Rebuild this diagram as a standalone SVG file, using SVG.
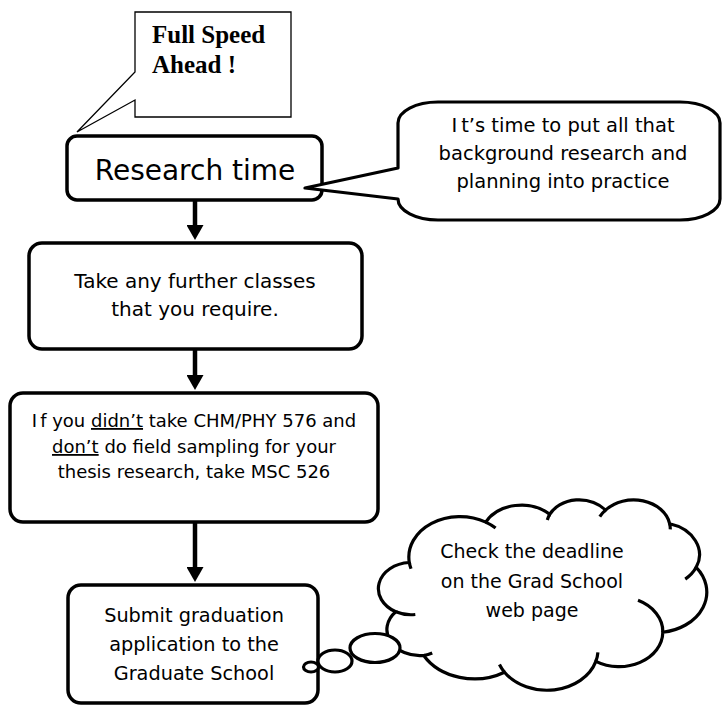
<svg xmlns="http://www.w3.org/2000/svg" width="725" height="706" viewBox="0 0 725 706">
<defs>
<style>
.t{font-family:"DejaVu Sans",Verdana,sans-serif;fill:#000;text-anchor:middle}
.serif{font-family:"Liberation Serif","Times New Roman",serif;font-weight:bold;font-size:25px;fill:#000}
.box{fill:#fff;stroke:#000;stroke-width:3.5}
.shape{fill:#fff;stroke:#000;stroke-width:3.2;stroke-linejoin:round}
.u{text-decoration:underline}
.arrow{stroke:#000;stroke-width:4.5;fill:none}
</style>
<marker id="ah" markerUnits="userSpaceOnUse" markerWidth="15" markerHeight="17" viewBox="0 0 15 17" refX="1" refY="8.5" orient="auto">
<path d="M0,0 L15,8.5 L0,17 Z" fill="#000"/>
</marker>
</defs>
<rect width="725" height="706" fill="#fff"/>

<g id="connectors">
<line class="arrow" x1="195" y1="200" x2="195" y2="226" marker-end="url(#ah)"/>
<line class="arrow" x1="195" y1="349" x2="195" y2="376" marker-end="url(#ah)"/>
<line class="arrow" x1="195" y1="522" x2="195" y2="568" marker-end="url(#ah)"/>
</g>

<g id="full-speed">
<path d="M135,12 H291 V117 H135 V100 L77,132 L135,72 Z" fill="#fff" stroke="#000" stroke-width="1.3"/>
<text class="serif" x="152" y="43">Full Speed</text>
<text class="serif" x="152" y="73">Ahead !</text>
</g>

<g id="research">
<rect class="box" x="67" y="136" width="255" height="64" rx="10"/>
<text class="t" x="195" y="180" font-size="28">Research time</text>
</g>

<g id="note-bubble">
<path class="shape" d="M438,102 H680 A40,21 0 0 1 720,123 V199 A40,21 0 0 1 680,220 H438 A40,21 0 0 1 398,199 L305,188 L398,168 V123 A40,21 0 0 1 438,102 Z"/>
<text class="t" x="563" y="132" font-size="19.5">I<tspan dx="4">t’s time to put all that</tspan></text>
<text class="t" x="563" y="160" font-size="19.5">background research and</text>
<text class="t" x="563" y="188" font-size="19.5">planning into practice</text>
</g>

<g id="classes">
<rect class="box" x="29" y="243" width="333" height="106" rx="13"/>
<text class="t" x="195" y="288" font-size="20">Take any further classes</text>
<text class="t" x="195" y="316" font-size="20">that you require.</text>
</g>

<g id="msc">
<rect class="box" x="10" y="393" width="368" height="129" rx="13"/>
<text class="t" x="194" y="427" font-size="18">I<tspan dx="3">f you </tspan><tspan class="u">didn’t</tspan> take CHM/PHY 576 and</text>
<text class="t" x="194" y="453" font-size="18"><tspan class="u">don’t</tspan> do field sampling for your</text>
<text class="t" x="194" y="478" font-size="18">thesis research, take MSC 526</text>
</g>

<g id="submit">
<rect class="box" x="68" y="585" width="250" height="118" rx="13"/>
<text class="t" x="194" y="622" font-size="19.3">Submit graduation</text>
<text class="t" x="194" y="651" font-size="19.3">application to the</text>
<text class="t" x="194" y="680" font-size="19.3">Graduate School</text>
</g>

<g id="thought-cloud">
<g transform="translate(379.8,499.2) scale(0.0075656,0.0044055)">
<path fill="#fff" stroke="#000" stroke-width="3.2" vector-effect="non-scaling-stroke" d="M3900,14370 A6753,9190 0 0 1 14005,5202 A5333,7267 0 0 1 22457,3434 A4365,5945 0 0 1 29835,2484 A4857,6595 0 0 1 38320,5581 A5333,7273 0 0 1 41820,15465 A6775,9220 0 0 1 37406,30207 A5785,7867 0 0 1 28557,36817 A6752,9215 0 0 1 16482,39269 A7720,10543 0 0 1 5806,35474 A4360,5918 0 0 1 2115,25552 A4345,5945 0 0 1 3900,14370 Z"/>
<path fill="none" stroke="#000" stroke-width="3.2" vector-effect="non-scaling-stroke" d="M4693,26177 A4345,5945 0 0 1 2115,25552 M6928,34899 A4360,5918 0 0 1 5806,35474 M16482,39269 A6752,9215 0 0 1 15814,37529 M28827,34751 A6752,9215 0 0 1 28557,36817 M34129,22954 A5785,7867 0 0 1 37406,30207 M41820,15465 A5333,7273 0 0 1 40372,18141 M38320,5581 A4857,6595 0 0 1 38396,6845 M29078,3952 A4857,6595 0 0 1 29835,2484 M22141,4720 A4365,5945 0 0 1 22457,3434 M14005,5202 A6753,9190 0 0 1 15306,6552 M4127,15789 A6753,9190 0 0 1 3900,14370"/>
</g>
<ellipse class="shape" cx="375" cy="648" rx="25" ry="14.5"/>
<ellipse class="shape" cx="335" cy="661" rx="17" ry="11"/>
<ellipse class="shape" cx="311" cy="667" rx="7.5" ry="5"/>
<text class="t" x="532" y="558" font-size="19">Check the deadline</text>
<text class="t" x="532" y="588" font-size="19">on the Grad School</text>
<text class="t" x="532" y="617" font-size="19">web page</text>
</g>
</svg>
